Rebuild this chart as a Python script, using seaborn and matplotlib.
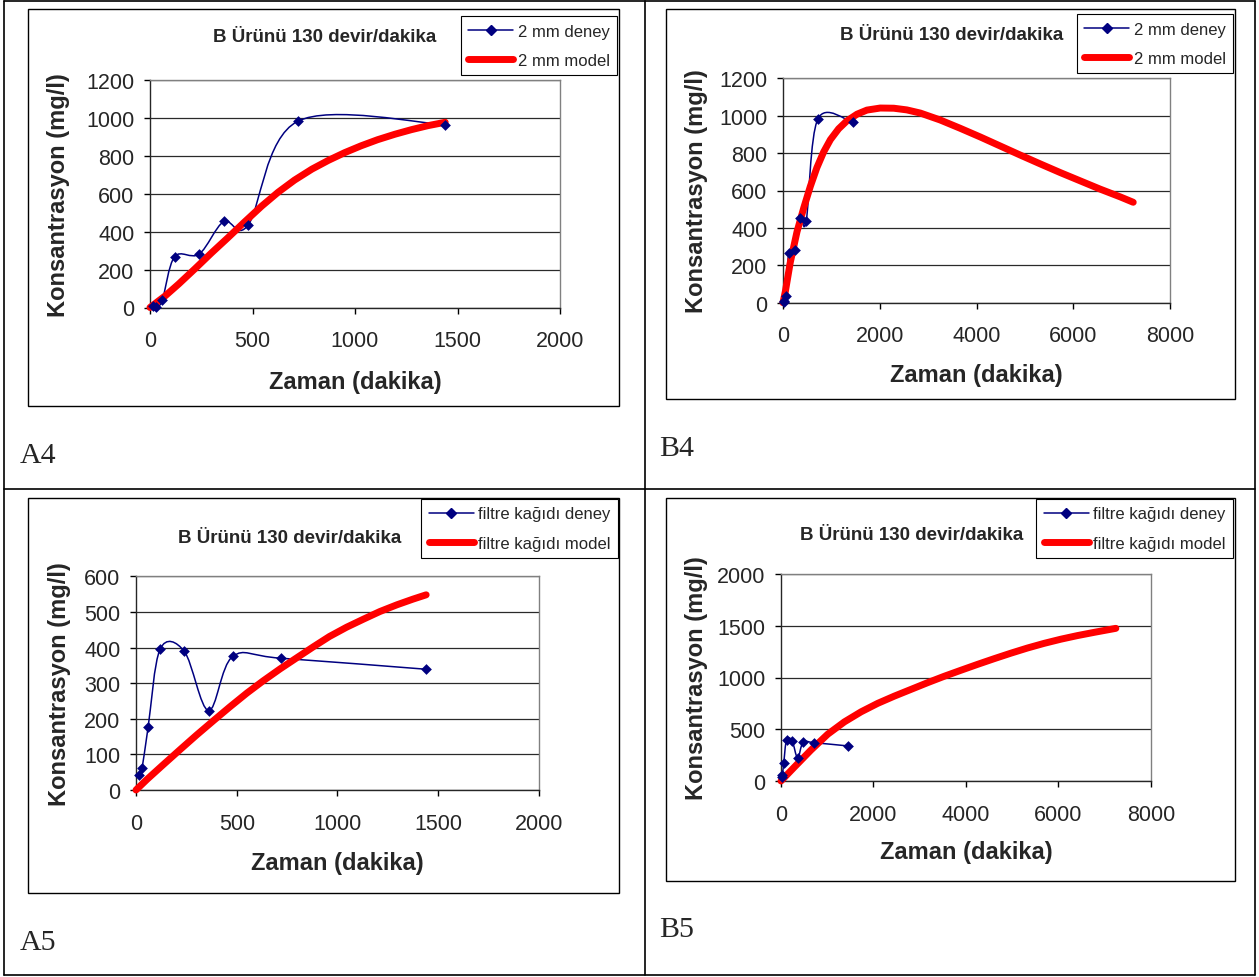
import numpy as np
import seaborn as sns
import matplotlib.pyplot as plt
from matplotlib.lines import Line2D
from matplotlib.patches import Rectangle, PathPatch
from matplotlib.path import Path

# %% veriler

zaman_deney = [15, 30, 60, 120, 240, 360, 480, 720, 1440]
mm2_deney = [10, 5, 38, 268, 282, 454, 437, 982, 965]
filtre_deney = [42, 61, 176, 396, 389, 223, 375, 370, 339]

# A4: 2 mm model, 0-1440 dk
a4_model_t = [0, 75, 140, 220, 300, 380, 460, 545, 625, 705, 790, 870, 950,
              1030, 1110, 1195, 1275, 1355, 1440]
a4_model_c = [0, 62, 124, 205, 288, 368, 450, 535, 608, 672, 730, 776, 817,
              853, 885, 914, 938, 959, 977]

# B4: 2 mm model, 0-7200 dk
b4_model_t = [0, 50, 150, 290, 430, 565, 700, 840, 980, 1150, 1320, 1530,
              1735, 2010, 2290, 2560, 2840, 3250, 3660, 4080, 4490, 4900,
              5320, 5730, 6140, 6550, 6970, 7240]
b4_model_c = [0, 62, 215, 380, 508, 622, 722, 806, 872, 930, 972, 1008,
              1030, 1041, 1040, 1031, 1014, 977, 933, 886, 838, 790,
              742, 696, 652, 608, 566, 537]

# A5: filtre kagidi model, 0-1440 dk
a5_model_t = [0, 55, 135, 220, 300, 385, 465, 550, 630, 715, 800, 880, 960,
              1045, 1130, 1210, 1295, 1375, 1440]
a5_model_c = [0, 30, 71, 114, 154, 195, 233, 272, 306, 340, 372, 402, 431,
              457, 480, 501, 520, 536, 548]

# B5: filtre kagidi model, 0-7200 dk
b5_model_t = [0, 290, 650, 1010, 1370, 1730, 2090, 2450, 2810, 3170, 3530,
              3890, 4250, 4610, 4970, 5330, 5690, 6050, 6410, 6780, 7240]
b5_model_c = [0, 135, 300, 452, 571, 668, 750, 820, 885, 950, 1012,
              1070, 1127, 1182, 1235, 1285, 1330, 1370, 1405, 1437, 1475]

baslik = 'B Ürünü 130 devir/dakika'

# %% yerlesim (piksel)

W, H = 1259, 978
NAVY = '#000080'

yerlesim = {
    'A4': dict(plot=(150, 81, 560, 308.5), chart=(28, 10, 619, 407),
               leg=(617, 17), title=(325, 41.7), etiket=(20, 463),
               xlab=382.5, ylab=59),
    'B4': dict(plot=(783, 79.3, 1170, 303.7), chart=(666, 10, 1235, 400),
               leg=(1233, 15), title=(952, 40), etiket=(659, 456),
               xlab=376, ylab=697),
    'A5': dict(plot=(136, 577.3, 539, 791), chart=(28, 499, 619, 894),
               leg=(618, 500), title=(290, 543), etiket=(20, 950),
               xlab=864, ylab=59),
    'B5': dict(plot=(781, 575, 1151, 782), chart=(666, 499, 1235, 882),
               leg=(1233, 500), title=(912, 540), etiket=(659, 937),
               xlab=852.5, ylab=697),
}

# %%

sns.set_style('ticks')
plt.rcParams['font.family'] = ['Liberation Sans', 'DejaVu Sans']

fig = plt.figure(figsize=(W / 100, H / 100), dpi=100)


def excel_smooth(ax, x, y, **kw):
    # Excel'in "duzgun cizgi" secenegi gibi Bezier egrisi
    pts = np.column_stack([x, y]).astype(float)
    ext = np.vstack([pts[0], pts, pts[-1]])
    verts = [pts[0]]
    codes = [Path.MOVETO]
    for i in range(len(pts) - 1):
        p0, p1, p2, p3 = ext[i], ext[i + 1], ext[i + 2], ext[i + 3]
        verts += [p1 + (p2 - p0) / 6, p2 - (p3 - p1) / 6, p2]
        codes += [Path.CURVE4] * 3
    ax.add_patch(PathPatch(Path(verts, codes), fill=False, **kw))


def panel(key, t_d, c_d, t_m, c_m, ad, xmax, xstep, ymax, ystep):
    lay = yerlesim[key]
    x0, y0, x1, y1 = lay['plot']
    ax = fig.add_axes([x0 / W, 1 - y1 / H, (x1 - x0) / W, (y1 - y0) / H])

    excel_smooth(ax, t_d, c_d, edgecolor=NAVY, lw=1.1, zorder=2,
                 clip_on=False)
    sns.lineplot(x=t_m, y=c_m, ax=ax, color='red', lw=5, zorder=3,
                 solid_capstyle='round', solid_joinstyle='round',
                 errorbar=None, clip_on=False)
    sns.scatterplot(x=t_d, y=c_d, ax=ax, marker='D', s=30, color=NAVY,
                    edgecolor=NAVY, linewidth=0, zorder=4, clip_on=False)

    ax.set_xlim(0, xmax)
    ax.set_ylim(0, ymax)
    ax.set_xticks(np.arange(0, xmax + 1, xstep))
    ax.set_yticks(np.arange(0, ymax + 1, ystep))
    ax.yaxis.grid(True, color='#2a2a2a', lw=0.9)
    ax.set_axisbelow(True)
    for s in ['top', 'right']:
        ax.spines[s].set_color('#808080')
    for s in ax.spines.values():
        s.set_linewidth(1)
    ax.tick_params(direction='out', length=4.3, width=1, color='black',
                   labelsize=15.5)
    ax.tick_params(axis='y', pad=7)
    ax.tick_params(axis='x', pad=12)

    ax.set_xlabel('Zaman (dakika)', fontsize=17, fontweight='bold',
                  va='center')
    ax.xaxis.set_label_coords(0.5, (y1 - lay['xlab']) / (y1 - y0))
    ax.set_ylabel('Konsantrasyon (mg/l)', fontsize=17, fontweight='bold',
                  va='center')
    ax.yaxis.set_label_coords((lay['ylab'] - x0) / (x1 - x0), 0.5)

    handles = [Line2D([], [], color=NAVY, lw=1.1, marker='D', ms=5.5),
               Line2D([], [], color='red', lw=5)]
    lx, ly = lay['leg']
    leg = ax.legend(handles, [ad + ' deney', ad + ' model'],
                    loc='upper right', bbox_to_anchor=(lx / W, 1 - ly / H),
                    bbox_transform=fig.transFigure, frameon=True,
                    fancybox=False, edgecolor='black', framealpha=1,
                    fontsize=12, handlelength=2.7, handletextpad=0.25,
                    borderpad=0.45, labelspacing=0.85, borderaxespad=0)
    leg.get_frame().set_linewidth(0.8)

    cx0, cy0, cx1, cy1 = lay['chart']
    fig.add_artist(Rectangle((cx0 / W, 1 - cy1 / H), (cx1 - cx0) / W,
                             (cy1 - cy0) / H, transform=fig.transFigure,
                             fill=False, ec='black', lw=1))
    tx, ty = lay['title']
    fig.text(tx / W, 1 - ty / H, baslik, ha='center', va='baseline',
             fontsize=13.5, fontweight='bold')
    ex, ey = lay['etiket']
    fig.text(ex / W, 1 - ey / H, key, ha='left', va='baseline',
             fontsize=21.5, family=['Liberation Serif', 'DejaVu Serif'])
    return ax


panel('A4', zaman_deney, mm2_deney, a4_model_t, a4_model_c, '2 mm',
      2000, 500, 1200, 200)
panel('B4', zaman_deney, mm2_deney, b4_model_t, b4_model_c, '2 mm',
      8000, 2000, 1200, 200)
panel('A5', zaman_deney, filtre_deney, a5_model_t, a5_model_c,
      'filtre kağıdı', 2000, 500, 600, 100)
panel('B5', zaman_deney, filtre_deney, b5_model_t, b5_model_c,
      'filtre kağıdı', 8000, 2000, 2000, 500)

# tablo cizgileri
for (xa, ya, xb, yb) in [(4, 2, 1255, 2), (4, 976, 1255, 976),
                         (4, 2, 4, 976), (1255, 2, 1255, 976),
                         (645, 2, 645, 976), (4, 490, 1255, 490)]:
    fig.add_artist(Line2D([xa / W, xb / W], [1 - ya / H, 1 - yb / H],
                          transform=fig.transFigure, color='black', lw=1.2))

fig.savefig('out.png', dpi=100)
